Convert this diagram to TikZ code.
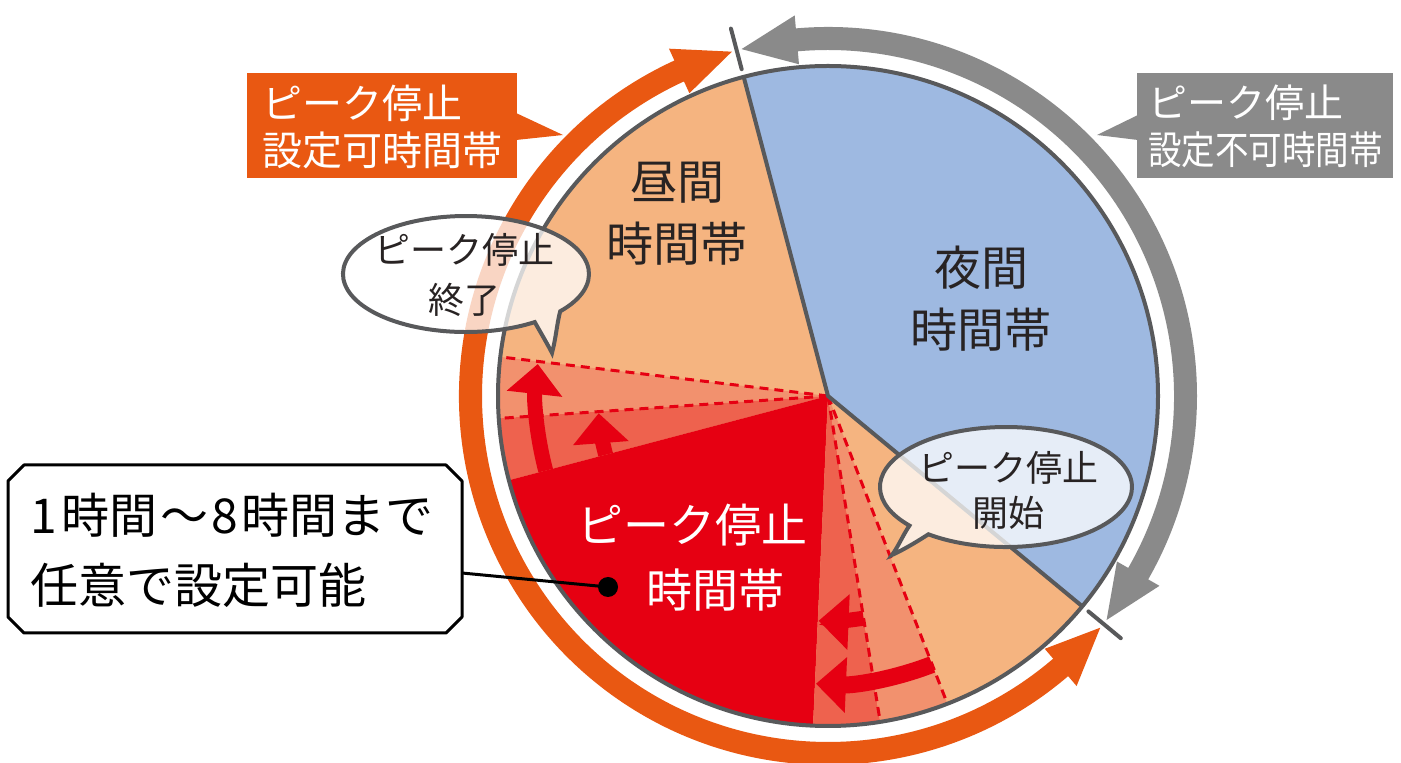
\documentclass[tikz,border=0pt]{standalone}
\usepackage{fontspec}
\setmainfont{Noto Sans CJK JP}
\usetikzlibrary{arrows.meta,calc}
\definecolor{bandorange}{RGB}{233,88,18}
\definecolor{bandgray}{RGB}{138,138,138}
\definecolor{outl}{RGB}{88,89,91}
\definecolor{dayc}{RGB}{245,180,128}
\definecolor{nightc}{RGB}{158,185,225}
\definecolor{peakc}{RGB}{230,0,18}
\definecolor{wedgeA}{RGB}{238,98,78}
\definecolor{wedgeB}{RGB}{242,145,110}
\definecolor{inkc}{RGB}{40,35,35}
\newcommand\jpf[2]{\fontsize{#1}{#2}\selectfont}
\begin{document}
\begin{tikzpicture}[x=1pt,y=1pt,
  dashline/.style={peakc, line width=3pt, dash pattern=on 9pt off 6pt},
  wedgearrow/.style={peakc, line width=15pt, -{Triangle[length=30pt,width=54pt]}},
  outline/.style={outl, line width=4pt},
  bubble/.style={outl, line width=4pt, fill=white, fill opacity=0.75},
  lbl/.style={inner sep=0pt, text=inkc},
]
\useasboundingbox (0,0) rectangle (1401,763);
\fill[white] (0,0) rectangle (1401,763);
\coordinate (C) at (828,367);

% sectors
\fill[nightc] (C) -- ($(C)+(-39.6:330pt)$) arc[start angle=-39.6,end angle=104.8,radius=330pt] -- cycle;
\fill[dayc] (C) -- ($(C)+(104.8:330pt)$) arc[start angle=104.8,end angle=320.4,radius=330pt] -- cycle;
\fill[wedgeB] (C) -- ($(C)+(173.2:330pt)$) arc[start angle=173.2,end angle=183.9,radius=330pt] -- cycle;
\fill[wedgeA] (C) -- ($(C)+(183.9:330pt)$) arc[start angle=183.9,end angle=194.8,radius=330pt] -- cycle;
\fill[peakc] (C) -- ($(C)+(194.8:330pt)$) arc[start angle=194.8,end angle=267.4,radius=330pt] -- cycle;
\fill[wedgeA] (C) -- ($(C)+(267.4:330pt)$) arc[start angle=267.4,end angle=279.1,radius=330pt] -- cycle;
\fill[wedgeB] (C) -- ($(C)+(279.1:330pt)$) arc[start angle=279.1,end angle=291.2,radius=330pt] -- cycle;

% dashed lines
\foreach \a in {173.2,183.9,279.1,291.2}
  \draw[dashline] (C) -- ($(C)+(\a:330pt)$);

% wedge arrows
\draw[wedgearrow] ($(C)+(194.8:292pt)$) arc[start angle=194.8,end angle=173.7,radius=292pt];
\draw[wedgearrow] ($(C)+(194.8:230pt)$) arc[start angle=194.8,end angle=184.3,radius=230pt];
\draw[wedgearrow] ($(C)+(279.1:225pt)$) arc[start angle=279.1,end angle=267.6,radius=225pt];
\draw[wedgearrow, line width=17pt] ($(C)+(291.2:288pt)$) arc[start angle=291.2,end angle=267.6,radius=288pt];

% boundaries and ticks
\draw[outline, line join=round] ($(C)+(104.8:330pt)$) -- (C) -- ($(C)+(320.4:330pt)$);
\draw[outline, line cap=round] ($(C)+(104.8:338pt)$) -- ($(C)+(104.8:380pt)$);
\draw[outline, line cap=round] ($(C)+(320.4:338pt)$) -- ($(C)+(320.4:380pt)$);
\draw[outline] (C) circle[radius=330pt];

% orange band
\fill[bandorange] ($(C)+(114.6:369pt)$) arc[start angle=114.6,end angle=310.6,radius=369pt]
  -- ($(C)+(310.6:382pt)$) -- ($(C)+(319.6:357.5pt)$) -- ($(C)+(310.6:333pt)$)
  -- ($(C)+(310.6:346pt)$) arc[start angle=310.6,end angle=114.6,radius=346pt]
  -- ($(C)+(114.6:333pt)$) -- ($(C)+(105.6:357.5pt)$) -- ($(C)+(114.6:382pt)$) -- cycle;
% gray band
\fill[bandgray] ($(C)+(95.0:369pt)$) arc[start angle=95.0,end angle=-29.8,radius=369pt]
  -- ($(C)+(-29.8:382pt)$) -- ($(C)+(-38.8:357.5pt)$) -- ($(C)+(-29.8:333pt)$)
  -- ($(C)+(-29.8:346pt)$) arc[start angle=-29.8,end angle=95.0,radius=346pt]
  -- ($(C)+(95.0:333pt)$) -- ($(C)+(104.0:357.5pt)$) -- ($(C)+(95.0:382pt)$) -- cycle;

% label boxes
\fill[bandorange] (247,585) rectangle (517,690);
\fill[bandorange] (516,650) -- (563,628) -- (516,623) -- cycle;
\node[lbl, text=white, font=\jpf{40}{47}, align=left, anchor=west] (otext) at (262,636.5) {ピーク停止\\設定可時間帯};
\fill[bandgray] (1137,585) rectangle (1393,690);
\fill[bandgray] (1138,648) -- (1097,628) -- (1138,623) -- cycle;
\node[lbl, text=white, font=\jpf{39}{47}, align=left, anchor=west] (gtext) at (1148,636.5) {ピーク停止\\\scalebox{0.86}[1]{設定不可時間帯}};

% sector texts
\node[lbl, font=\jpf{47}{62}, align=center] (day) at (677,549) {昼間\\時間帯};
\node[lbl, font=\jpf{47}{62}, align=center] (night) at (981,464) {夜間\\時間帯};
\node[lbl, text=white, font=\jpf{46}{65}, align=center] (peak) at (692,205.5) {ピーク停止\\\hspace*{46pt}時間帯};

% bubble 1
\draw[bubble] (560.2,451.7) arc[start angle=-40,end angle=304,x radius=123pt,y radius=58pt]
  .. controls (542,428) and (548,418) .. (552,410)
  .. controls (556,425) and (557,440) .. (560.2,451.7) -- cycle;
\node[lbl, font=\jpf{36}{50}, align=center] (endt) at (464,488) {ピーク停止\\終了};
% bubble 2
\draw[bubble] (928.4,228.7) arc[start angle=232,end angle=580,x radius=126pt,y radius=60pt]
  .. controls (903,228) and (898,216) .. (892,208)
  .. controls (905,214) and (918,222) .. (928.4,228.7) -- cycle;
\node[lbl, font=\jpf{36}{45}, align=center] (startt) at (1008,272.5) {ピーク停止\\開始};

% callout
\draw[line width=3pt, fill=white, line join=round] (24,130) -- (446,130) -- (462,146) -- (462,282) -- (446,298) -- (24,298) -- (8,282) -- (8,146) -- cycle;
\node[lbl, text=black, font=\jpf{48}{70}, align=left, anchor=west] (cbt) at (30,213) {1\kern5pt時間\kern3pt〜\kern3pt8\kern3pt時間まで\\任意で設定可能};
\coordinate (ls) at (462,190);
\node[circle, fill=black, minimum size=20pt, inner sep=0pt] (dot) at (608,176) {};
\draw[line width=3pt] (ls) -- (dot.center);
\end{tikzpicture}
\end{document}
